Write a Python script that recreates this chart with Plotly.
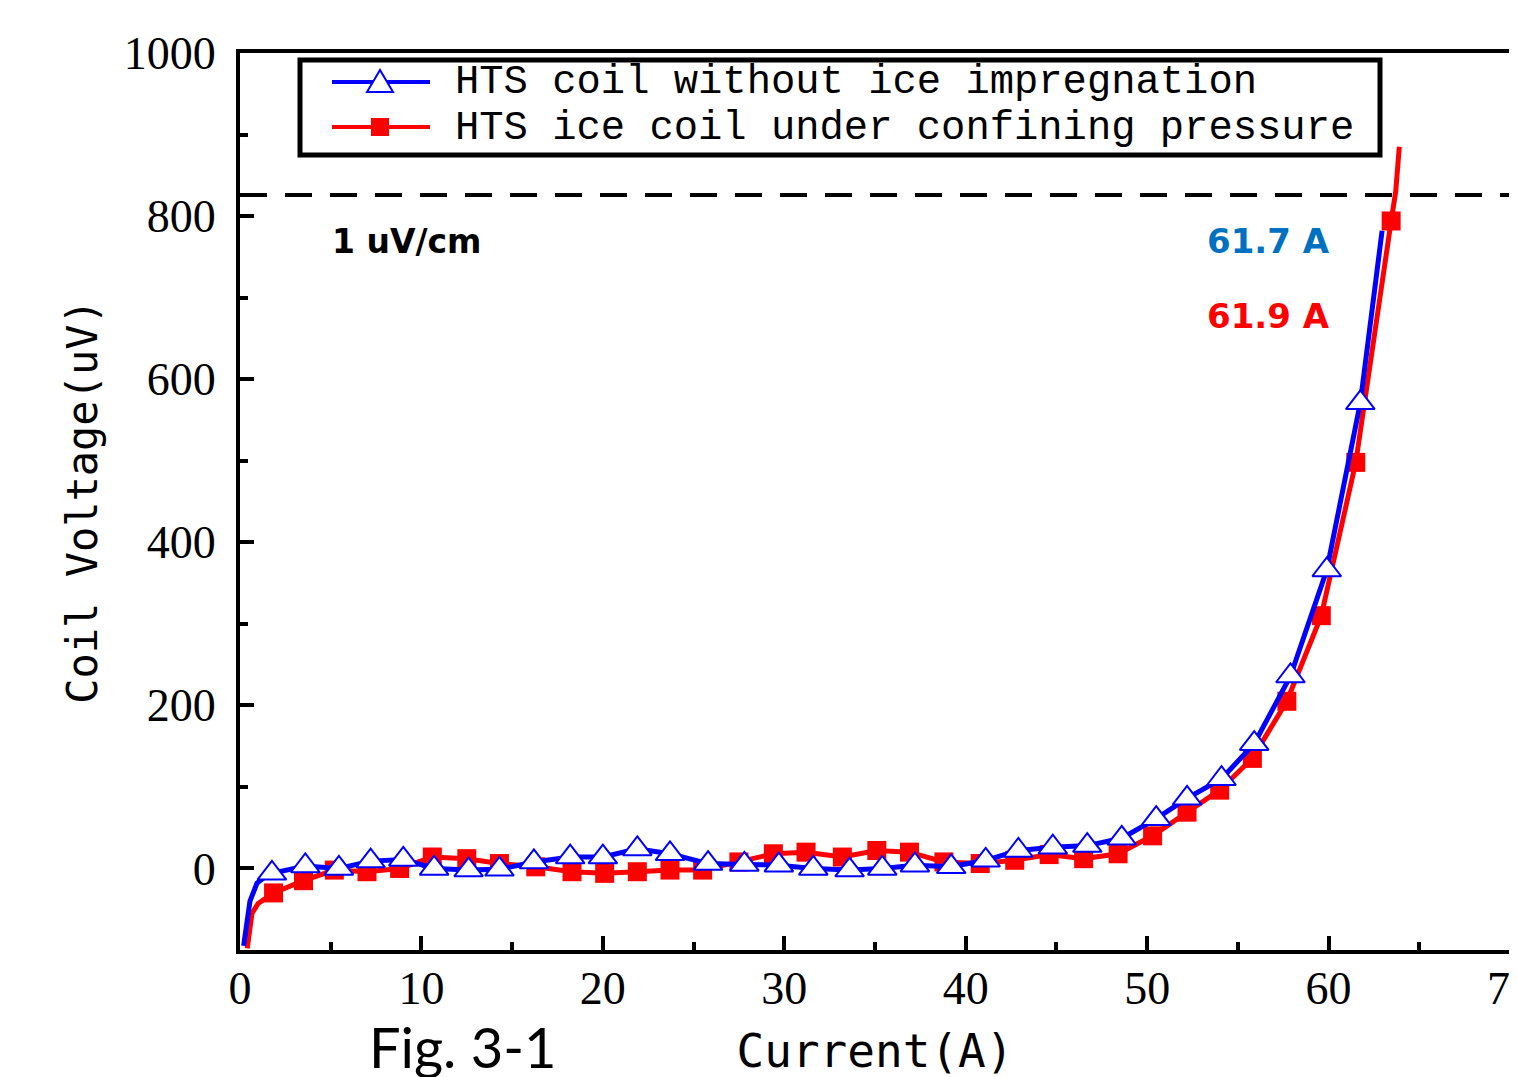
import plotly.graph_objects as go

# ---------------- data ----------------
blue_marker_x = [1.76, 3.6, 5.45, 7.2, 9.0, 10.7, 12.6, 14.3, 16.2, 18.2, 20.0, 21.9, 23.7,
                 25.8, 27.8, 29.7, 31.6, 33.6, 35.4, 37.2, 39.2, 41.1, 42.9, 44.8, 46.7,
                 48.6, 50.5, 52.2, 54.1, 55.9, 57.9, 59.9, 61.75]
blue_marker_y = [-6, 3, 0, 9, 11, 0, -2, -1, 8, 14, 14, 24, 18,
                 6, 5, 4, 0, -2, 0, 4, 2, 10, 22, 26, 28,
                 37, 61, 86, 110, 153, 236, 366, 571]
blue_head_x = [0.2, 0.55, 0.94, 1.4]
blue_head_y = [-95, -40, -18, -10]
blue_tail_x = [62.4, 62.8, 62.95]
blue_tail_y = [681, 746, 782]

red_marker_x = [1.85, 3.5, 5.2, 7.0, 8.8, 10.6, 12.5, 14.3, 16.3, 18.3, 20.1, 21.9, 23.7,
                25.5, 27.5, 29.4, 31.2, 33.2, 35.1, 36.9, 38.8, 40.8, 42.7, 44.6, 46.5,
                48.4, 50.3, 52.2, 54.0, 55.8, 57.7, 59.6, 61.5, 63.45]
red_marker_y = [-30, -15, -2, -4, 0, 14, 12, 6, 2, -4, -6, -4, -2,
                -2, 8, 18, 20, 14, 22, 20, 8, 6, 10, 17, 12,
                18, 40, 69, 96, 135, 205, 310, 498, 794]
red_head_x = [0.4, 0.66, 1.0]
red_head_y = [-98, -55, -43]
red_tail_x = [63.7, 63.9]
red_tail_y = [830, 885]

criterion_voltage = 826
series_names = ["HTS coil without ice impregnation", "HTS ice coil under confining pressure"]
ic_labels = ["61.7 A", "61.9 A"]
x_ticks = [0, 10, 20, 30, 40, 50, 60, 70]
y_ticks = [0, 200, 400, 600, 800, 1000]

# ---------------- layout helpers ----------------
W, H = 1517, 1077
OFF = 8                      # page offset of the figure (body margin)
L, R, T, B = 232, 15, 45, 135
PW, PH = W - L - R, H - T - B


def px(xp):
    """page x pixel -> paper x"""
    return (xp - OFF - L) / PW


def py(yp):
    """page y pixel -> paper y"""
    return (H - B - (yp - OFF)) / PH


BLUE = "#0000FF"
RED = "#FF0000"

fig = go.Figure()

fig.add_trace(go.Scatter(
    x=red_head_x + red_marker_x + red_tail_x,
    y=red_head_y + red_marker_y + red_tail_y,
    mode="lines", line=dict(color=RED, width=5), showlegend=False, hoverinfo="skip"))
fig.add_trace(go.Scatter(
    x=red_marker_x, y=red_marker_y, mode="markers", name=series_names[1],
    marker=dict(symbol="square", size=19, color=RED, line=dict(width=0)), showlegend=False))
fig.add_trace(go.Scatter(
    x=blue_head_x + blue_marker_x + blue_tail_x,
    y=blue_head_y + blue_marker_y + blue_tail_y,
    mode="lines", line=dict(color=BLUE, width=5), showlegend=False, hoverinfo="skip"))
fig.add_trace(go.Scatter(
    x=blue_marker_x, y=blue_marker_y, mode="markers", name=series_names[0],
    marker=dict(symbol="triangle-up", size=25, color="white", line=dict(color=BLUE, width=2)),
    showlegend=False))

shapes = []
# 1 uV/cm criterion line
shapes.append(dict(type="line", xref="x", yref="y", x0=0, x1=70, y0=criterion_voltage,
                   y1=criterion_voltage, line=dict(color="black", width=4, dash="27px,18px")))
# legend box
shapes.append(dict(type="rect", xref="paper", yref="paper", x0=px(300), x1=px(1380),
                   y0=py(155), y1=py(60), line=dict(color="black", width=5), fillcolor="white"))
# legend samples
for yy, col in [(82, BLUE), (127, RED)]:
    shapes.append(dict(type="line", xref="paper", yref="paper", x0=px(332), x1=px(430),
                       y0=py(yy), y1=py(yy), line=dict(color=col, width=4)))
shapes.append(dict(type="path", xref="paper", yref="paper",
                   path=f"M {px(367)},{py(92)} L {px(393)},{py(92)} L {px(380)},{py(70)} Z",
                   fillcolor="white", line=dict(color=BLUE, width=2)))
shapes.append(dict(type="rect", xref="paper", yref="paper", x0=px(371), x1=px(389),
                   y0=py(136), y1=py(118), fillcolor=RED, line=dict(width=0)))

annotations = []
legend_font = dict(family="Liberation Mono", size=40.5, color="black")
for name, yy in zip(series_names, [82, 128]):
    annotations.append(dict(text=name, xref="paper", yref="paper", x=px(453), y=py(yy),
                            xanchor="left", yanchor="middle", showarrow=False, font=legend_font))
annotations.append(dict(text="1 uV/cm", xref="paper", yref="paper", x=px(330), y=py(241),
                        xanchor="left", yanchor="middle", showarrow=False,
                        font=dict(family="DejaVu Sans", size=33, color="black", weight="bold")))
annotations.append(dict(text=ic_labels[0], xref="paper", yref="paper", x=px(1332), y=py(241),
                        xanchor="right", yanchor="middle", showarrow=False,
                        font=dict(family="DejaVu Sans", size=34, color="#0070C0", weight="bold")))
annotations.append(dict(text=ic_labels[1], xref="paper", yref="paper", x=px(1332), y=py(316),
                        xanchor="right", yanchor="middle", showarrow=False,
                        font=dict(family="DejaVu Sans", size=34, color=RED, weight="bold")))
annotations.append(dict(text="Fig. 3-1", xref="paper", yref="paper", x=px(462), y=py(1046),
                        xanchor="center", yanchor="middle", showarrow=False,
                        font=dict(family="Lato", size=56, color="black")))

axis_common = dict(showgrid=False, zeroline=False, showline=True, linecolor="black",
                   linewidth=4, mirror=True, ticks="inside", tickcolor="black",
                   tickwidth=4, ticklen=14, ticklabeloverflow="allow",
                   tickfont=dict(family="Liberation Serif", size=46, color="black"))

fig.update_layout(
    width=W, height=H,
    margin=dict(l=L, r=R, t=T, b=B, autoexpand=False),
    paper_bgcolor="white", plot_bgcolor="white",
    showlegend=False,
    xaxis=dict(range=[0, 70], tickvals=x_ticks, ticklabelstandoff=-5,
               minor=dict(dtick=5, ticks="inside", ticklen=8, tickwidth=4, tickcolor="black"),
               title=dict(text="Current(A)", standoff=23,
                          font=dict(family="DejaVu Sans Mono", size=46, color="black")),
               **axis_common),
    yaxis=dict(range=[-100, 1000], tickvals=y_ticks, ticklabelstandoff=11,
               minor=dict(dtick=100, ticks="inside", ticklen=8, tickwidth=4, tickcolor="black"),
               title=dict(text="Coil Voltage(uV)", standoff=14,
                          font=dict(family="DejaVu Sans Mono", size=42, color="black")),
               **axis_common),
    shapes=shapes,
    annotations=annotations,
)

fig.write_html("out.html")
